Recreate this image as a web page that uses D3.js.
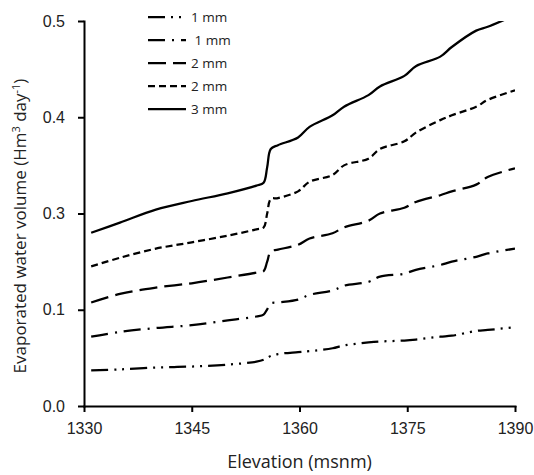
<!DOCTYPE html>
<html>
<head>
<meta charset="utf-8">
<script src="https://cdn.jsdelivr.net/npm/d3@7"></script>
<style>
	body { margin: 0; background: #fff; }
	svg { font-family: "Open Sans", sans-serif; }
	.axis path, .axis line { stroke: #000; stroke-width: 2; }
	.axis text { font-size: 16px; fill: #222; }
	.axes-text { font-size: 17px; fill: #222; }
	.legend-text { font-size: 13.5px; fill: #222; white-space: pre; }
</style>
</head>
<body>
<div id="container"></div>
<script>
// Elevation (msnm)
const elevation = [1331, 1335, 1340, 1345, 1350, 1354, 1355, 1355.5, 1356, 1357, 1359.8, 1361.4, 1364.6, 1366.2, 1369.6, 1371.2, 1374.6, 1376.2, 1379.6, 1381.2, 1384.6, 1386.2, 1390];

// Evaporated water volume, one array per series
const vol1a = [0.037, 0.038, 0.040, 0.041, 0.043, 0.046, 0.048, 0.050, 0.052, 0.054, 0.056, 0.057, 0.060, 0.063, 0.066, 0.067, 0.068, 0.069, 0.072, 0.073, 0.078, 0.079, 0.082];
const vol1b = [0.072, 0.077, 0.081, 0.084, 0.089, 0.093, 0.095, 0.101, 0.113, 0.115, 0.121, 0.131, 0.140, 0.150, 0.158, 0.169, 0.175, 0.183, 0.193, 0.200, 0.210, 0.217, 0.227];
const vol2a = [0.115, 0.133, 0.146, 0.155, 0.167, 0.177, 0.180, 0.200, 0.221, 0.225, 0.235, 0.248, 0.259, 0.271, 0.285, 0.300, 0.306, 0.312, 0.319, 0.323, 0.330, 0.338, 0.347];
const vol2b = [0.190, 0.208, 0.227, 0.240, 0.254, 0.267, 0.271, 0.300, 0.315, 0.316, 0.323, 0.333, 0.340, 0.350, 0.357, 0.367, 0.375, 0.384, 0.397, 0.402, 0.411, 0.418, 0.428];
const vol3 = [0.260, 0.281, 0.304, 0.313, 0.321, 0.329, 0.332, 0.348, 0.367, 0.371, 0.379, 0.390, 0.402, 0.411, 0.423, 0.432, 0.443, 0.453, 0.463, 0.473, 0.490, 0.494, 0.506];

const seriesNames = ["1 mm", " 1 mm", "2 mm", "2 mm", "3 mm"];

// Tick labels as printed on the chart
const xTicks = [1330, 1345, 1360, 1375, 1390];
const yTicks = [0, 0.1, 0.3, 0.4, 0.5];

const w = 534;
const h = 475;
const margin = {top: 21, left: 84, bottom: 69, right: 19};
const graphWidth = w - margin.left - margin.right;
const graphHeight = h - margin.top - margin.bottom;

const svg = d3.select("#container").append("svg").attr("width", w).attr("height", h);
const graph = svg.append("g").attr("transform", `translate(${margin.left}, ${margin.top})`);

const xScale = d3.scaleLinear().domain([1330, 1390]).range([0, graphWidth]);
// y ticks are evenly spaced even though the labels skip 0.2
const yScale = d3.scaleLinear()
	.domain(yTicks)
	.range(yTicks.map((d, i) => graphHeight - i * graphHeight / (yTicks.length - 1)));

graph.append("clipPath").attr("id", "clip")
	.append("rect").attr("width", graphWidth).attr("height", graphHeight);

const series = [
	{name: seriesNames[0], values: vol1a, dash: "17,6,2,6,2,6"},
	{name: seriesNames[1], values: vol1b, dash: "17,7,2,7"},
	{name: seriesNames[2], values: vol2a, dash: "18,7"},
	{name: seriesNames[3], values: vol2b, dash: "7,4"},
	{name: seriesNames[4], values: vol3, dash: null}
];

const line = d3.line()
	.x((d, i) => xScale(elevation[i]))
	.y(d => yScale(d))
	.curve(d3.curveCatmullRom.alpha(0.5));

graph.append("g").attr("clip-path", "url(#clip)")
	.selectAll("path")
	.data(series)
	.enter()
	.append("path")
		.attr("d", d => line(d.values))
		.attr("fill", "none")
		.attr("stroke", "#000")
		.attr("stroke-width", 2.25)
		.attr("stroke-dasharray", d => d.dash);

// Axes
const xAxis = d3.axisBottom(xScale).tickValues(xTicks).tickFormat(d3.format("d")).tickSizeInner(6).tickSizeOuter(0).tickPadding(11);
const yAxis = d3.axisLeft(yScale).tickValues(yTicks).tickFormat(d3.format(".1f")).tickSizeInner(6).tickSizeOuter(0).tickPadding(13);

graph.append("g").attr("class", "axis").attr("transform", `translate(0, ${graphHeight})`).call(xAxis);
graph.append("g").attr("class", "axis").call(yAxis);

graph.selectAll(".axis .domain").attr("stroke-linecap", "square");

// Axis titles
svg.append("text")
	.attr("class", "axes-text")
	.style("font-size", "18px")
	.attr("x", margin.left + graphWidth / 2)
	.attr("y", h - 7)
	.attr("text-anchor", "middle")
	.text("Elevation (msnm)");

const yTitle = svg.append("text")
	.attr("class", "axes-text")
	.attr("transform", `translate(26, 226) rotate(-90)`)
	.attr("text-anchor", "middle");
yTitle.append("tspan").text("Evaporated water volume (Hm");
yTitle.append("tspan").attr("dy", -6).attr("font-size", "11px").text("3");
yTitle.append("tspan").attr("dy", 6).text(" day");
yTitle.append("tspan").attr("dy", -6).attr("font-size", "11px").text("-1");
yTitle.append("tspan").attr("dy", 6).text(")");

// Legend
const legend = svg.append("g").attr("id", "legend");
const rows = legend.selectAll("g")
	.data(series)
	.enter()
	.append("g")
		.attr("transform", (d, i) => `translate(148, ${17 + i * 23})`);

rows.append("line")
	.attr("x1", 0)
	.attr("x2", 38)
	.attr("stroke", "#000")
	.attr("stroke-width", 2.25)
	.attr("stroke-dasharray", d => d.dash);

rows.append("text")
	.attr("class", "legend-text")
	.attr("x", 43)
	.attr("dy", "0.35em")
	.text(d => d.name);
</script>
</body>
</html>
